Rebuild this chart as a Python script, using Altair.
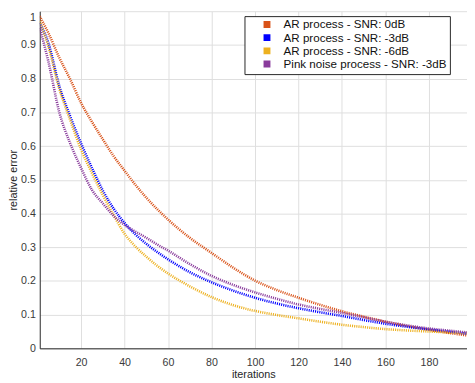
import altair as alt
import pandas as pd

iterations = [1, 5, 10, 15, 20, 25, 30, 35, 40, 45, 50, 55, 60, 70, 80, 90,
              100, 110, 120, 130, 140, 150, 160, 170, 180, 190, 198]

ar_0db = [0.985, 0.935, 0.862, 0.798, 0.728, 0.672, 0.620, 0.570, 0.527, 0.485,
          0.447, 0.413, 0.382, 0.328, 0.283, 0.239, 0.201, 0.173, 0.150, 0.129,
          0.110, 0.094, 0.079, 0.066, 0.055, 0.045, 0.038]
ar_m3db = [0.965, 0.905, 0.778, 0.688, 0.608, 0.535, 0.468, 0.414, 0.372, 0.338,
           0.310, 0.286, 0.264, 0.226, 0.196, 0.171, 0.150, 0.133, 0.119, 0.107,
           0.096, 0.084, 0.073, 0.064, 0.056, 0.049, 0.043]
ar_m6db = [0.970, 0.895, 0.770, 0.677, 0.590, 0.520, 0.455, 0.395, 0.340, 0.302,
           0.272, 0.245, 0.222, 0.184, 0.152, 0.128, 0.111, 0.099, 0.089, 0.079,
           0.070, 0.063, 0.057, 0.053, 0.050, 0.047, 0.045]
pink_m3db = [0.950, 0.850, 0.700, 0.608, 0.535, 0.470, 0.430, 0.393, 0.366, 0.346,
             0.328, 0.308, 0.290, 0.250, 0.215, 0.188, 0.166, 0.147, 0.130, 0.117,
             0.105, 0.092, 0.079, 0.068, 0.059, 0.052, 0.047]

series_names = ["AR process - SNR: 0dB", "AR process - SNR: -3dB",
                "AR process - SNR: -6dB", "Pink noise process - SNR: -3dB"]
series_colors = ["#D95319", "#0000FF", "#EDB120", "#8A3C9C"]
x_ticks = [20, 40, 60, 80, 100, 120, 140, 160, 180]
y_ticks = [0, 0.1, 0.2, 0.3, 0.4, 0.5, 0.6, 0.7, 0.8, 0.9, 1]

rows = []
for name, vals in zip(series_names, [ar_0db, ar_m3db, ar_m6db, pink_m3db]):
    for it, v in zip(iterations, vals):
        rows.append({"series": name, "iteration": it, "error": v})
df = pd.DataFrame(rows)

FONT = "Liberation Sans"

base = alt.Chart(df).encode(
    x=alt.X("iteration:Q",
            scale=alt.Scale(domain=[1, 197.5], nice=False, zero=False),
            axis=alt.Axis(title="iterations", values=x_ticks, grid=True,
                          ticks=False, labelPadding=8.5, titlePadding=1)),
    y=alt.Y("error:Q",
            scale=alt.Scale(domain=[0, 1], nice=False),
            axis=alt.Axis(title="relative error", values=y_ticks, format="~g",
                          grid=True, ticks=False, labelPadding=4.5, titlePadding=2,
                          labelBaseline={"condition": {"test": "datum.value == 1",
                                                       "value": "top"},
                                         "value": "middle"})),
)

lines = base.mark_line(
    strokeDash=[1.1, 1.1], strokeWidth=2.6, interpolate="monotone", clip=True
).encode(
    stroke=alt.Stroke("series:N",
                      scale=alt.Scale(domain=series_names, range=series_colors),
                      sort=series_names, legend=None)
)

swatches = base.transform_calculate(name="datum.series").transform_filter(
    "datum.iteration < 0"
).mark_square(filled=True, opacity=1).encode(
    fill=alt.Fill("name:N",
                  scale=alt.Scale(domain=series_names, range=series_colors),
                  sort=series_names,
                  legend=alt.Legend(
                      title=None, orient="none", legendX=208.3, legendY=5,
                      fillColor="white", strokeColor="#262626", padding=3,
                      symbolType="square", symbolSize=49, symbolStrokeWidth=0,
                      symbolOffset=14, labelOffset=11, clipHeight=11,
                      labelFontSize=11.8, labelFont=FONT, labelColor="#111111",
                      rowPadding=0.4, labelLimit=400,
                      labelExpr="datum.label + '\u00a0\u00a0\u00a0\u00a0\u00a0\u00a0'"))
)

chart = alt.layer(lines, swatches).resolve_scale(fill="independent", stroke="independent").properties(
    width=434.7, height=343,
    autosize=alt.AutoSizeParams(type="none"),
    padding={"left": 32.3, "top": 0, "right": 0, "bottom": 32},
).configure_view(strokeWidth=0).configure_axis(
    gridColor="#dedede", gridWidth=1, domainColor="#262626", domainWidth=1,
    labelFont=FONT, labelFontSize=10.8, labelColor="#3a3a3a",
    titleFont=FONT, titleFontSize=11, titleFontWeight="normal", titleColor="#262626",
)

chart.save("out.html", embed_options={"renderer": "svg", "actions": False})
